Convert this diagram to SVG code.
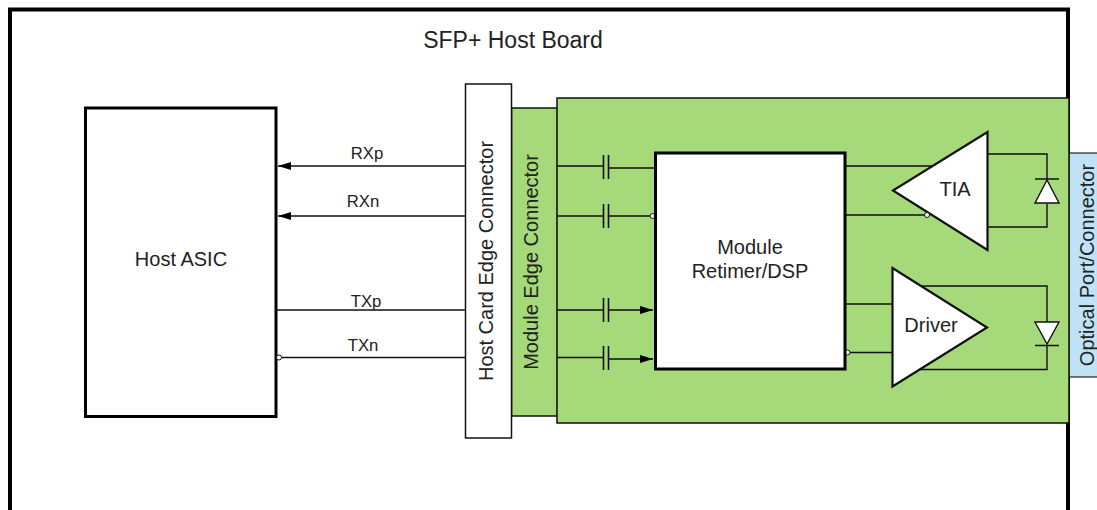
<svg xmlns="http://www.w3.org/2000/svg" width="1097" height="510" viewBox="0 0 1097 510">
<style>
text{font-family:"Liberation Sans",Arial,sans-serif;fill:#222;text-anchor:middle}
.t20{font-size:20px}.t14{font-size:16.700px}
.w{stroke:#111;stroke-width:1.4;fill:none}
.g{fill:#a5d97a;stroke:#111;stroke-width:1.5}
.b{fill:#fff;stroke:#000;stroke-width:3}
.tri{fill:#fff;stroke:#111;stroke-width:2.2;stroke-linejoin:miter}
.cap{stroke:#111;stroke-width:1.6;fill:none}
.dot{fill:#fff;stroke:#111;stroke-width:1}
</style>
<defs>
<marker id="ah" markerUnits="userSpaceOnUse" markerWidth="14" markerHeight="10" refX="13" refY="4" orient="auto"><path d="M0 0L13 4L0 8Z" fill="#000"/></marker>
<g id="c"><path class="cap" d="M-2.5-12V12M2.5-12V12"/></g>
</defs>
<rect width="1097" height="510" fill="#fff"/>
<g id="board"><path d="M10 520V9.500H1068V520" fill="none" stroke="#000" stroke-width="4"/><text x="513" y="48" style="font-size:23px">SFP+ Host Board</text></g>
<g id="optical-port"><rect x="1069" y="153" width="40" height="224" fill="#c0e2f6" stroke="#222" stroke-width="1.2"/><text class="t20" transform="translate(1094 265) rotate(-90)">Optical Port/Connector</text></g>
<g id="module-edge"><rect class="g" x="511.500" y="108" width="46" height="308"/><text class="t20" transform="translate(538 262) rotate(-90)">Module Edge Connector</text></g>
<g id="module-board"><rect class="g" x="557" y="98" width="512" height="325"/></g>
<g id="host-card-edge"><rect x="465.500" y="84" width="46" height="354" fill="#fff" stroke="#111" stroke-width="1.500"/><text class="t20" transform="translate(493 261) rotate(-90)">Host Card Edge Connector</text></g>
<g id="host-asic"><rect class="b" x="85.500" y="108" width="190.500" height="308.500"/><text class="t20" x="181" y="266">Host ASIC</text></g>
<g id="connectors">
<path class="w" d="M465 166H278" marker-end="url(#ah)"/>
<path class="w" d="M465 216H278" marker-end="url(#ah)"/>
<path class="w" d="M277 310H465"/>
<path class="w" d="M281 357.500H465"/>
<circle class="dot" cx="279" cy="357.500" r="2.500"/>
<path class="w" d="M557 166H603M609 168L654 168"/><use href="#c" x="606" y="167"/>
<path class="w" d="M557 216H603M609 216H650"/><use href="#c" x="606" y="216"/><circle class="dot" cx="652.500" cy="216" r="2.500"/>
<path class="w" d="M557 310H603M609 310H653" marker-end="url(#ah)"/><use href="#c" x="606" y="310"/>
<path class="w" d="M557 357.500H603M609 359H653" marker-end="url(#ah)"/><use href="#c" x="606" y="358"/>
<path class="w" d="M846 166H935M846 215H925"/>
<path class="w" d="M846 304H892M850 352.500H892"/><circle class="dot" cx="847.500" cy="352.500" r="2.500"/>
<path class="w" d="M987 154H1047V179M1047 204V227H987"/>
<path class="w" d="M920 286H1047V322M1047 346V369.500H920"/>
<path class="w" d="M1035 179H1059M1035 345.500H1059"/>
</g>
<g id="module-retimer"><rect class="b" x="655.500" y="153" width="189.500" height="216"/><text class="t20" x="750" y="254">Module</text><text class="t20" x="750" y="278">Retimer/DSP</text></g>
<g id="tia"><path class="tri" d="M987.500 132V250L893 190.500Z"/><text class="t20" x="955" y="196">TIA</text><circle class="dot" cx="927" cy="215" r="2.500"/></g>
<g id="driver"><path class="tri" d="M892.500 268V386.500L987 327.500Z"/><text class="t20" x="931" y="332">Driver</text></g>
<g id="photodiode"><path d="M1047 180L1035 203H1059Z" fill="#fff" stroke="#111" stroke-width="1.400"/></g>
<g id="laser-diode"><path d="M1047 344L1035 322H1059Z" fill="#fff" stroke="#111" stroke-width="1.400"/></g>
<g id="labels"><text class="t14" x="367" y="159">RXp</text><text class="t14" x="363" y="207">RXn</text><text class="t14" x="366" y="307">TXp</text><text class="t14" x="363" y="351">TXn</text></g>
</svg>
